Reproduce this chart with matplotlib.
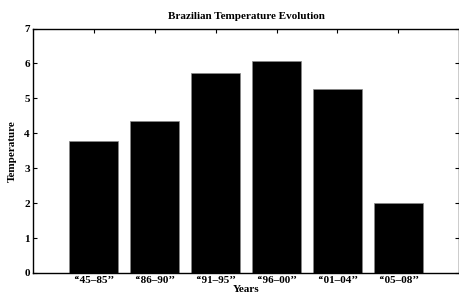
import matplotlib.pyplot as plt

periods = ['\u2018\u201845\u201385\u2019\u2019', '\u2018\u201886\u201390\u2019\u2019',
           '\u2018\u201891\u201395\u2019\u2019', '\u2018\u201896\u201300\u2019\u2019',
           '\u2018\u201801\u201304\u2019\u2019', '\u2018\u201805\u201308\u2019\u2019']
temps = [3.78, 4.36, 5.73, 6.07, 5.28, 2.0]

plt.rcParams['font.family'] = ['Liberation Serif', 'DejaVu Serif']
plt.rcParams['font.weight'] = 'bold'

fig = plt.figure(figsize=(4.59, 3.0), dpi=100)
ax = fig.add_axes([0.071, 0.09, 0.93, 0.815])

pos = list(range(1, len(temps) + 1))
ax.bar(pos, temps, width=0.8, color='black', edgecolor='#888888', linewidth=0.5)

ax.set_xlim(0, 7)
ax.set_ylim(0, 7)
ax.set_xticks(pos)
ax.set_xticklabels(periods)
ax.set_yticks(range(0, 8))
ax.tick_params(direction='in', top=True, right=True, labelsize=8, length=3, pad=2)
for s in ax.spines.values():
    s.set_linewidth(1.0)

ax.set_title('Brazilian Temperature Evolution', fontsize=8, fontweight='bold', pad=7)
ax.set_xlabel('Years', fontsize=8, fontweight='bold', labelpad=0)
ax.set_ylabel('Temperature', fontsize=8, fontweight='bold', labelpad=5)

fig.savefig('out.png', dpi=100)
